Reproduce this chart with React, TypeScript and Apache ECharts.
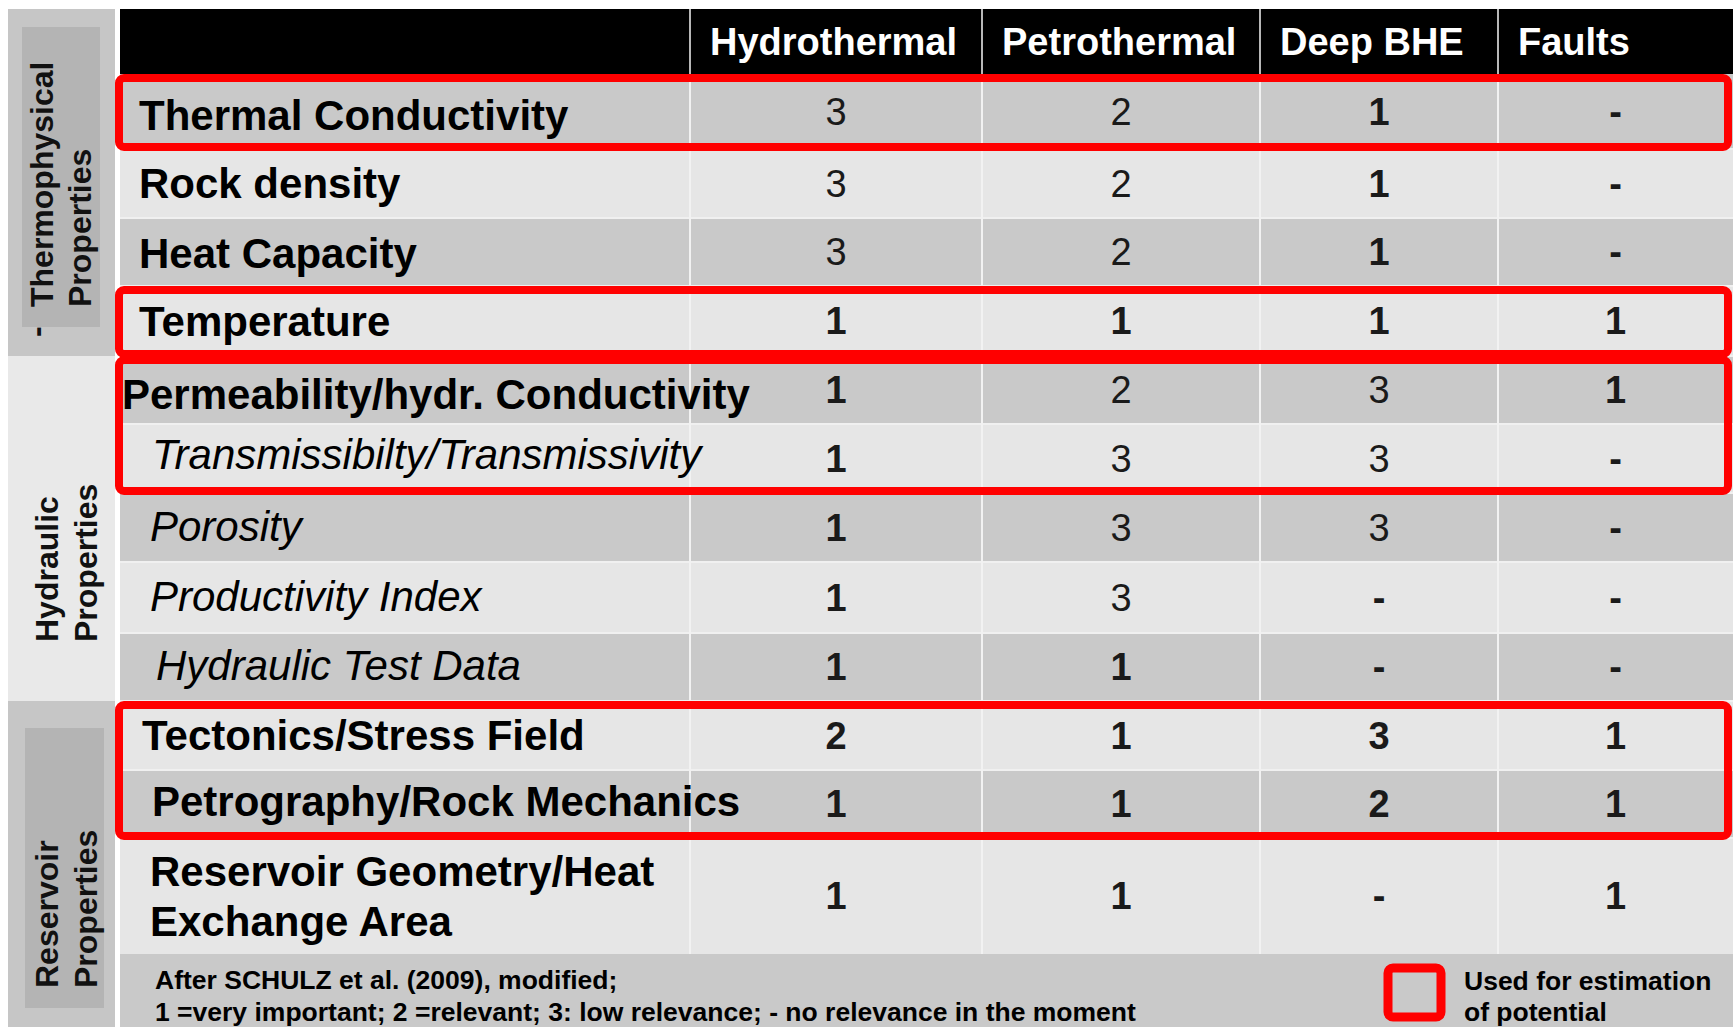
import React, { useEffect, useRef } from "react";
import * as echarts from "echarts";

// ---------------- DATA ----------------
const columns = ["Hydrothermal", "Petrothermal", "Deep BHE", "Faults"];
const parameters = [
  "Thermal Conductivity",
  "Rock density",
  "Heat Capacity",
  "Temperature",
  "Permeability/hydr. Conductivity",
  "Transmissibilty/Transmissivity",
  "Porosity",
  "Productivity Index",
  "Hydraulic Test Data",
  "Tectonics/Stress Field",
  "Petrography/Rock Mechanics",
  "Reservoir Geometry/Heat\nExchange Area",
];
const hydrothermal = ["3", "3", "3", "1", "1", "1", "1", "1", "1", "2", "1", "1"];
const petrothermal = ["2", "2", "2", "1", "2", "3", "3", "3", "1", "1", "1", "1"];
const deepBHE = ["1", "1", "1", "1", "3", "3", "3", "-", "-", "3", "2", "-"];
const faults = ["-", "-", "-", "1", "1", "-", "-", "-", "-", "1", "1", "1"];
const groupNames = [
  ["Thermophysical", "Properties"],
  ["Hydraulic", "Properties"],
  ["Reservoir", "Properties"],
];
const groupFirstRow = [0, 4, 9];
const groupLastRow = [3, 8, 11];
const potentialFirstRow = [0, 3, 4, 9];
const potentialLastRow = [0, 3, 5, 10];
const sourceNote = [
  "After SCHULZ et al. (2009), modified;",
  "1 =very important; 2 =relevant; 3: low relevance; - no relevance in the moment",
];
const legendText = ["Used for estimation", "of potential"];

// ---------------- LAYOUT / STYLE ----------------
const W = 1736;
const H = 1027;
const TABLE_LEFT = 120;
const TABLE_RIGHT = 1733;
const HEADER_TOP = 9;
const HEADER_H = 65;
const ROW_H = [75, 69, 68, 70, 68, 69, 69, 71, 68, 69, 68, 116];
const COL_W = [570, 292, 278, 238, 235];
const PANEL_LEFT = 8;
const PANEL_RIGHT = 115;
const PANEL_INNER: (number[] | null)[] = [[22, 100, 18, 29], null, [25, 104, 27, 19]];
const GROUP_LINE_X = [[42, 80], [47, 86], [47, 86]];
const GROUP_TEXT_INSET = [49, 59, 39];
const LABEL_INDENT = [19, 19, 19, 19, 2, 32, 30, 30, 36, 22, 32, 30];
const LABEL_DY = [4, 0, 1, 0, 4, -4, -1, -1, -2, 0, -3, 0];
const ITALIC_ROWS = [5, 6, 7, 8];
const FONT = "Liberation Sans, Arial, Helvetica, sans-serif";
const DARK = "#c9c9c9";
const LIGHT = "#e6e6e6";
const PANEL_DARK = "#c6c6c6";
const PANEL_INNER_C = "#b4b4b4";
const PANEL_LIGHT = "#e9e9e9";
const RED = "#ff0000";

const valueColumns = [hydrothermal, petrothermal, deepBHE, faults];

const sum = (a: number[], n: number) => a.slice(0, n).reduce((s, v) => s + v, 0);
const BODY_TOP = HEADER_TOP + HEADER_H;
const rowTop = (i: number) => BODY_TOP + sum(ROW_H, i);
const FOOTER_TOP = rowTop(ROW_H.length);
const colLeft = (c: number) => TABLE_LEFT + sum(COL_W, c);
const font = (size: number, weight = "bold", style = "normal") =>
  `${style} ${weight} ${size}px ${FONT}`;

function rectEl(api: any, x0: number, y0: number, x1: number, y1: number, style: any, r = 0) {
  const a = api.coord([x0, y0]);
  const b = api.coord([x1, y1]);
  return {
    type: "rect",
    shape: { x: a[0], y: a[1], width: b[0] - a[0], height: b[1] - a[1], r },
    style,
  };
}

function textEl(api: any, x: number, y: number, text: string, o: any) {
  const p = api.coord([x, y]);
  const style: any = {
    text,
    fill: o.fill || "#000",
    font: o.font,
    textAlign: o.align || "left",
    align: o.align || "left",
    textVerticalAlign: "middle",
    verticalAlign: "middle",
  };
  if (o.lineHeight) {
    style.lineHeight = o.lineHeight;
    style.textLineHeight = o.lineHeight;
  }
  return { type: "text", x: p[0], y: p[1], rotation: o.rotation || 0, style };
}

function buildOption(): any {
  const rowData = parameters.map((_, i) => [i, i]);
  const cellData: number[][] = [];
  parameters.forEach((_, r) => columns.forEach((__, c) => cellData.push([c, r])));

  const series: any[] = [
    // row bands
    {
      type: "custom",
      z: 1,
      silent: true,
      data: rowData,
      renderItem: (params: any, api: any) => {
        const i = params.dataIndex;
        const children: any[] = [
          rectEl(api, TABLE_LEFT, rowTop(i), TABLE_RIGHT, rowTop(i + 1), {
            fill: i % 2 === 0 ? DARK : LIGHT,
          }),
        ];
        if (i > 0)
          children.push(
            rectEl(api, TABLE_LEFT, rowTop(i) - 1, TABLE_RIGHT, rowTop(i) + 1, { fill: "#f0f0f0" })
          );
        return { type: "group", children };
      },
    },
    // group panels
    {
      type: "custom",
      z: 1,
      silent: true,
      data: groupNames.map((_, g) => [g, g]),
      renderItem: (params: any, api: any) => {
        const g = params.dataIndex;
        const top = g === 0 ? HEADER_TOP : rowTop(groupFirstRow[g]);
        const bottom = g === groupNames.length - 1 ? H : rowTop(groupLastRow[g] + 1);
        const dark = g % 2 === 0;
        const children: any[] = [
          rectEl(api, PANEL_LEFT, top, PANEL_RIGHT, bottom, { fill: dark ? PANEL_DARK : PANEL_LIGHT }),
        ];
        const inner = PANEL_INNER[g];
        if (inner)
          children.push(
            rectEl(api, inner[0], top + inner[2], inner[1], bottom - inner[3], { fill: PANEL_INNER_C })
          );
        const base = bottom - GROUP_TEXT_INSET[g];
        groupNames[g].forEach((line, k) => {
          children.push(
            textEl(api, GROUP_LINE_X[g][k], base, line, {
              font: font(32),
              fill: "#111",
              rotation: Math.PI / 2,
            })
          );
        });
        if (g === 0)
          children.push(
            textEl(api, 36, base + 30, "-", { font: font(32), fill: "#111", rotation: Math.PI / 2 })
          );
        return { type: "group", children };
      },
    },
    // header
    {
      type: "custom",
      z: 2,
      silent: true,
      data: [0, 1, 2, 3, 4].map((c) => [c, c]),
      renderItem: (params: any, api: any) => {
        const c = params.dataIndex;
        const x0 = colLeft(c);
        const x1 = colLeft(c + 1);
        const children: any[] = [
          rectEl(api, x0, HEADER_TOP, x1, BODY_TOP, { fill: "#000" }),
        ];
        if (c > 0) {
          children.push(
            rectEl(api, x0 - 1, HEADER_TOP, x0 + 1, BODY_TOP, { fill: "#b8b8b8" })
          );
          children.push(
            textEl(api, x0 + 20, HEADER_TOP + HEADER_H / 2, columns[c - 1], {
              font: font(38),
              fill: "#fff",
            })
          );
        }
        return { type: "group", children };
      },
    },
    // column separators
    {
      type: "custom",
      z: 2,
      silent: true,
      data: [1, 2, 3, 4].map((c) => [c, c]),
      renderItem: (params: any, api: any) => {
        const x = colLeft(params.dataIndex + 1);
        return rectEl(api, x - 1, BODY_TOP, x + 1, FOOTER_TOP, { fill: "#f2f2f2" });
      },
    },
    // red boxes
    {
      type: "custom",
      z: 3,
      silent: true,
      data: potentialFirstRow.map((_, k) => [k, k]),
      renderItem: (params: any, api: any) => {
        const k = params.dataIndex;
        return rectEl(
          api,
          TABLE_LEFT - 1,
          rowTop(potentialFirstRow[k]) + 4,
          TABLE_RIGHT - 5,
          rowTop(potentialLastRow[k] + 1) - 2,
          { fill: "none", stroke: RED, lineWidth: 8 },
          5
        );
      },
    },
    // row labels
    {
      type: "custom",
      z: 4,
      silent: true,
      data: rowData,
      renderItem: (params: any, api: any) => {
        const i = params.dataIndex;
        const italic = ITALIC_ROWS.indexOf(i) >= 0;
        const cy = (rowTop(i) + rowTop(i + 1)) / 2 + LABEL_DY[i];
        return textEl(api, TABLE_LEFT + LABEL_INDENT[i], cy, parameters[i], {
          font: italic ? font(42, "normal", "italic") : font(42),
          fill: "#000",
          lineHeight: 50,
        });
      },
    },
    // values
    {
      type: "custom",
      z: 4,
      silent: true,
      data: cellData,
      renderItem: (params: any, api: any) => {
        const [c, r] = cellData[params.dataIndex];
        const v = valueColumns[c][r];
        const cx = (colLeft(c + 1) + colLeft(c + 2)) / 2;
        const cy = (rowTop(r) + rowTop(r + 1)) / 2;
        const bold = v === "1" || v === "-" || r >= 9;
        return textEl(api, cx, cy, v, {
          font: font(38, bold ? "bold" : "normal"),
          fill: "#1a1a1a",
          align: "center",
        });
      },
    },
    // footer & legend
    {
      type: "custom",
      z: 2,
      silent: true,
      data: [[0, 0]],
      renderItem: (params: any, api: any) => {
        const children: any[] = [
          rectEl(api, TABLE_LEFT, FOOTER_TOP, TABLE_RIGHT, H, { fill: DARK }),
        ];
        sourceNote.forEach((line, k) => {
          children.push(
            textEl(api, TABLE_LEFT + 35, FOOTER_TOP + 26 + k * 32, line, {
              font: font(26.5),
              fill: "#000",
            })
          );
        });
        children.push(
          rectEl(api, 1388, FOOTER_TOP + 14, 1441, FOOTER_TOP + 63, {
            fill: DARK,
            stroke: RED,
            lineWidth: 9,
          }, 5)
        );
        legendText.forEach((line, k) => {
          children.push(
            textEl(api, 1464, FOOTER_TOP + 27 + k * 31, line, { font: font(26.5), fill: "#000" })
          );
        });
        return { type: "group", children };
      },
    },
  ];

  return {
    animation: false,
    backgroundColor: "#ffffff",
    grid: { left: 0, right: 0, top: 0, bottom: 0, containLabel: false },
    xAxis: { type: "value", min: 0, max: W, show: false },
    yAxis: { type: "value", min: 0, max: H, inverse: true, show: false },
    series,
  };
}

export default function App() {
  const ref = useRef<HTMLDivElement>(null);
  useEffect(() => {
    if (!ref.current) return;
    const chart = echarts.init(ref.current, null, { renderer: "svg" });
    chart.setOption(buildOption());
    return () => chart.dispose();
  }, []);
  return (
    <div
      ref={ref}
      style={{ position: "fixed", left: 0, top: 0, width: W, height: H, background: "#fff" }}
    />
  );
}
